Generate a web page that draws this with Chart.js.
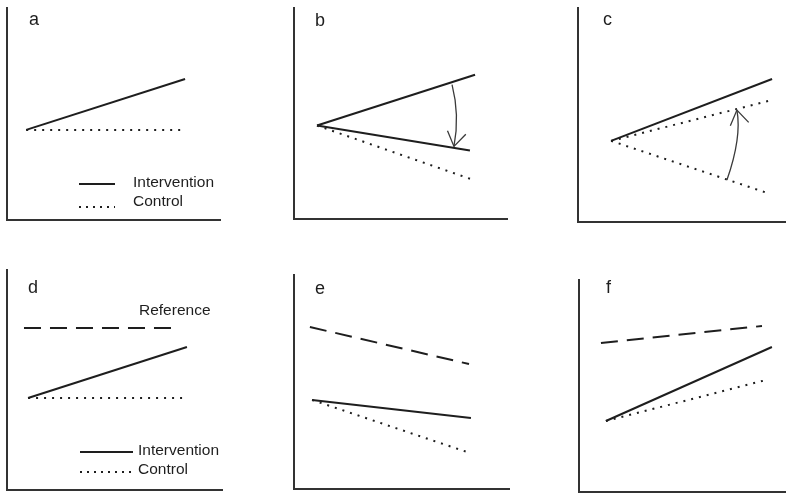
<!DOCTYPE html>
<html>
<head>
<meta charset="utf-8">
<script src="https://cdn.jsdelivr.net/npm/chart.js@4/dist/chart.umd.min.js"></script>
<style>
  html, body { margin: 0; padding: 0; background: #fff; }
  #wrap { position: relative; width: 786px; height: 494px; overflow: hidden; }
  #wrap canvas { position: absolute; }
</style>
</head>
<body>
<div id="wrap"></div>
<script>
// Panel letters and text labels
const panelLetters = ['a', 'b', 'c', 'd', 'e', 'f'];
const legendLabels = ['Intervention', 'Control'];
const referenceLabel = 'Reference';

// Trend lines, x = time, y = outcome (both on a 0–100 scale)
const interventionA = [{x: 9.0, y: 42.5}, {x: 83.6, y: 66.5}];
const controlA      = [{x: 9.0, y: 42.5}, {x: 83.6, y: 42.5}];

const interventionB1 = [{x: 10.8, y: 44.3}, {x: 85.0, y: 68.4}];
const interventionB2 = [{x: 10.8, y: 44.3}, {x: 82.6, y: 32.5}];
const controlB       = [{x: 10.8, y: 44.3}, {x: 84.5, y: 18.4}];

const interventionC = [{x: 15.9, y: 37.9}, {x: 93.3, y: 66.8}];
const controlC1     = [{x: 15.9, y: 37.9}, {x: 93.3, y: 57.0}];
const controlC2     = [{x: 15.9, y: 37.9}, {x: 90.9, y: 13.6}];

const referenceD    = [{x: 7.9, y: 73.6}, {x: 78.1, y: 73.6}];
const interventionD = [{x: 9.8, y: 41.8}, {x: 83.7, y: 65.0}];
const controlD      = [{x: 9.8, y: 41.8}, {x: 83.7, y: 41.8}];

const referenceE    = [{x: 7.4, y: 75.7}, {x: 81.4, y: 58.4}];
const interventionE = [{x: 8.4, y: 41.6}, {x: 82.3, y: 33.2}];
const controlE      = [{x: 8.4, y: 41.6}, {x: 81.9, y: 16.8}];

const referenceF    = [{x: 10.6, y: 70.3}, {x: 88.4, y: 78.3}];
const interventionF = [{x: 13.0, y: 33.5}, {x: 93.2, y: 68.4}];
const controlF      = [{x: 13.0, y: 33.5}, {x: 90.3, y: 52.8}];

// Curved arrows: start, bend, end
const arrowB = [{x: 74.2, y: 63.7}, {x: 77.9, y: 49.1}, {x: 75.1, y: 34.4}];
const arrowC = [{x: 71.6, y: 19.6}, {x: 78.8, y: 39.7}, {x: 76.4, y: 52.3}];

const INK = '#1e1e1e';
const AXIS = '#333';
const FONT = '"Liberation Sans", Arial, Helvetica, sans-serif';

const styles = {
  solid:  { borderDash: [] },
  dotted: { borderDash: [2, 6] },
  dashed: { borderDash: [17, 9] }
};

function series(data, kind) {
  return Object.assign({
    data: data,
    borderColor: INK,
    borderWidth: 2,
    borderCapStyle: 'butt',
    pointRadius: 0,
    tension: 0,
    fill: false
  }, styles[kind]);
}

// Draws panel letter, in-panel legend, reference label and curved arrow
const decor = {
  id: 'decor',
  afterDatasetsDraw(chart, args, opts) {
    const ctx = chart.ctx;
    const area = chart.chartArea;
    const xs = chart.scales.x, ys = chart.scales.y;
    ctx.save();
    ctx.fillStyle = INK;
    ctx.textBaseline = 'alphabetic';
    ctx.font = '18px ' + FONT;
    ctx.fillText(opts.letter, area.left + opts.letterPos[0], area.top + opts.letterPos[1]);

    if (opts.legend) {
      const L = opts.legend;
      ctx.font = '15.5px ' + FONT;
      ctx.textBaseline = 'middle';
      ctx.strokeStyle = INK;
      ctx.lineWidth = 2;
      // solid sample
      ctx.setLineDash([]);
      ctx.beginPath();
      ctx.moveTo(area.left + L.x0, area.bottom + L.y1);
      ctx.lineTo(area.left + L.x1, area.bottom + L.y1);
      ctx.stroke();
      ctx.fillText(legendLabels[0], area.left + L.tx, area.bottom + L.y1 - 1);
      // dotted sample
      ctx.setLineDash([2, 5]);
      ctx.beginPath();
      ctx.moveTo(area.left + L.x0, area.bottom + L.y2 + L.dotDrop);
      ctx.lineTo(area.left + L.x1, area.bottom + L.y2 + L.dotDrop);
      ctx.stroke();
      ctx.setLineDash([]);
      ctx.fillText(legendLabels[1], area.left + L.tx, area.bottom + L.y2);
    }

    if (opts.refPos) {
      ctx.font = '15.5px ' + FONT;
      ctx.textBaseline = 'middle';
      ctx.fillText(referenceLabel, area.left + opts.refPos[0], area.top + opts.refPos[1]);
    }

    if (opts.arrow) {
      const p = opts.arrow.map(pt => ({x: xs.getPixelForValue(pt.x), y: ys.getPixelForValue(pt.y)}));
      ctx.strokeStyle = '#3a3a3a';
      ctx.lineWidth = 1.3;
      ctx.setLineDash([]);
      ctx.beginPath();
      ctx.moveTo(p[0].x, p[0].y);
      ctx.quadraticCurveTo(p[1].x, p[1].y, p[2].x, p[2].y);
      ctx.stroke();
      // arrow head along the end tangent
      const ang = Math.atan2(p[2].y - p[1].y, p[2].x - p[1].x);
      const len = 17, spread = 0.58;
      ctx.beginPath();
      ctx.moveTo(p[2].x - len * Math.cos(ang - spread), p[2].y - len * Math.sin(ang - spread));
      ctx.lineTo(p[2].x, p[2].y);
      ctx.lineTo(p[2].x - len * Math.cos(ang + spread), p[2].y - len * Math.sin(ang + spread));
      ctx.stroke();
    }
    ctx.restore();
  }
};

function axis() {
  return {
    type: 'linear', min: 0, max: 100,
    ticks: { display: false },
    grid: { display: false, drawTicks: false },
    border: { display: true, color: AXIS, width: 2 }
  };
}

const panels = [
  { cell: [0, 0], pad: {left: 7, top: 8, right: 42, bottom: 27},
    datasets: [series(interventionA, 'solid'), series(controlA, 'dotted')],
    decor: { letter: panelLetters[0], letterPos: [22, 17],
             legend: { x0: 72, x1: 108, tx: 126, y1: -36, y2: -18, dotDrop: 5 } } },
  { cell: [262, 0], pad: {left: 32, top: 8, right: 17, bottom: 28},
    datasets: [series(interventionB1, 'solid'), series(interventionB2, 'solid'), series(controlB, 'dotted')],
    decor: { letter: panelLetters[1], letterPos: [21, 18], arrow: arrowB } },
  { cell: [524, 0], pad: {left: 54, top: 8, right: 0, bottom: 25},
    datasets: [series(interventionC, 'solid'), series(controlC1, 'dotted'), series(controlC2, 'dotted')],
    decor: { letter: panelLetters[2], letterPos: [25, 17], arrow: arrowC } },
  { cell: [0, 247], pad: {left: 7, top: 23, right: 40, bottom: 4},
    datasets: [series(referenceD, 'dashed'), series(interventionD, 'solid'), series(controlD, 'dotted')],
    decor: { letter: panelLetters[3], letterPos: [21, 23], refPos: [132, 41],
             legend: { x0: 73, x1: 126, tx: 131, y1: -38, y2: -20, dotDrop: 2 } } },
  { cell: [262, 247], pad: {left: 32, top: 28, right: 15, bottom: 5},
    datasets: [series(referenceE, 'dashed'), series(interventionE, 'solid'), series(controlE, 'dotted')],
    decor: { letter: panelLetters[4], letterPos: [21, 19] } },
  { cell: [524, 247], pad: {left: 55, top: 33, right: 0, bottom: 2},
    datasets: [series(referenceF, 'dashed'), series(interventionF, 'solid'), series(controlF, 'dotted')],
    decor: { letter: panelLetters[5], letterPos: [27, 13] } }
];

const wrap = document.getElementById('wrap');
panels.forEach(pn => {
  const cv = document.createElement('canvas');
  cv.width = 262; cv.height = 247;
  cv.style.left = pn.cell[0] + 'px';
  cv.style.top = pn.cell[1] + 'px';
  cv.style.width = '262px'; cv.style.height = '247px';
  wrap.appendChild(cv);
  new Chart(cv, {
    type: 'line',
    data: { datasets: pn.datasets },
    options: {
      responsive: false,
      animation: false,
      devicePixelRatio: 1,
      layout: { padding: pn.pad },
      scales: { x: axis(), y: axis() },
      plugins: {
        legend: { display: false },
        tooltip: { enabled: false },
        decor: pn.decor
      }
    },
    plugins: [decor]
  });
});
</script>
</body>
</html>
